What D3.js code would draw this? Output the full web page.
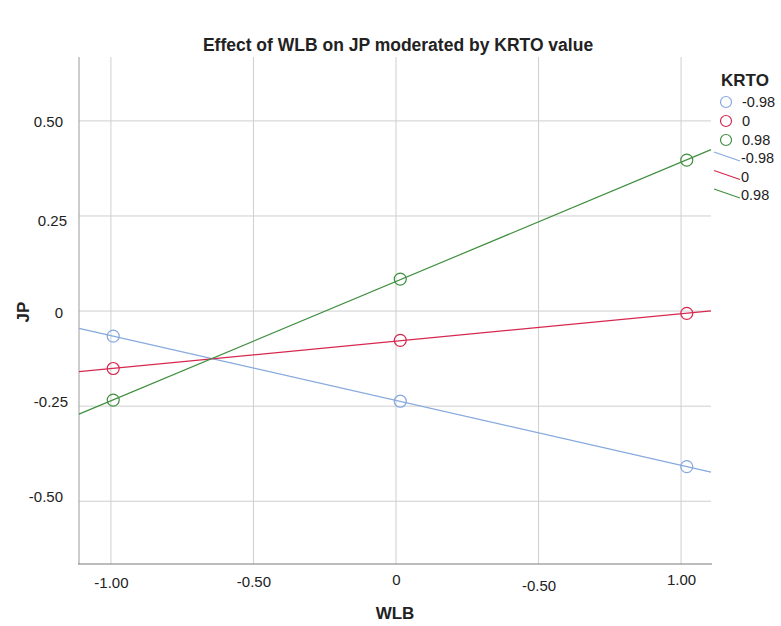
<!DOCTYPE html>
<html lang="en">
<head>
    <meta charset="UTF-8">
    <title>Effect of WLB on JP moderated by KRTO value</title>
    <style>
        body { margin: 0; background: #fff; }
        text { font-family: "Liberation Sans", Arial, sans-serif; fill: #222; }
    </style>
</head>
<script src="https://cdn.jsdelivr.net/npm/d3@7"></script>
<body>
</body>
<script>
    // data
    var wlbValues = [-0.992, 0.015, 1.02]
    var krtoLevels = ['-0.98', '0', '0.98']
    var jpLow = [-0.066, -0.237, -0.409]
    var jpMid = [-0.151, -0.077, -0.006]
    var jpHigh = [-0.234, 0.084, 0.397]
    var xTickValues = [-1, -0.5, 0, 0.5, 1]
    var xTickLabels = ['-1.00', '-0.50', '0', '-0.50', '1.00']
    var yTickValues = [-0.5, -0.25, 0, 0.25, 0.5]
    var yTickLabels = ['-0.50', '-0.25', '0', '0.25', '0.50']

    var colors = ['#86a9dd', '#d6284f', '#3f8f3f']
    var width = 781, height = 626
    var plot = {left: 79, right: 711, top: 57, bottom: 564}
    // small hand offsets seen on the labels in the original
    var xNudge = [0, -1, -3, 3, -3]
    var yNudgeY = [-5, -5, 1, 5, 1]
    var yNudgeX = [-2, 3, -2, 2, -2]

    var series = [jpLow, jpMid, jpHigh].map((vals, k) => ({
        name: krtoLevels[k],
        color: colors[k],
        points: vals.map((v, i) => ({x: wlbValues[i], y: v}))
    }))

    var svg = d3.select('body').append('svg')
        .attr('width', width)
        .attr('height', height)

    var x = d3.scaleLinear().domain([-1.112, 1.105]).range([plot.left, plot.right])
    var y = d3.scaleLinear().domain([-0.665, 0.668]).range([plot.bottom, plot.top])

    // grid
    svg.append('g')
        .selectAll('line')
        .data(xTickValues)
        .enter().append('line')
        .attr('x1', d => x(d)).attr('x2', d => x(d))
        .attr('y1', plot.top).attr('y2', plot.bottom)
        .attr('stroke', '#cfcfcf')
    svg.append('g')
        .selectAll('line')
        .data(yTickValues)
        .enter().append('line')
        .attr('x1', plot.left).attr('x2', plot.right)
        .attr('y1', d => y(d)).attr('y2', d => y(d))
        .attr('stroke', '#cfcfcf')

    // axes
    var xAxis = d3.axisBottom(x).tickValues(xTickValues).tickSize(0)
        .tickFormat((d, i) => xTickLabels[i])
    var gx = svg.append('g')
        .attr('transform', `translate(0, ${plot.bottom})`)
        .call(xAxis)
    gx.select('.domain').remove()
    gx.selectAll('text')
        .attr('font-size', 15)
        .attr('font-family', '"Liberation Sans", Arial, sans-serif')
        .attr('fill', '#222')
        .attr('y', (d, i) => 13 + xNudge[i])
        .attr('dy', '0.71em')

    var yAxis = d3.axisLeft(y).tickValues(yTickValues).tickSize(0)
        .tickFormat((d, i) => yTickLabels[i])
    var gy = svg.append('g')
        .attr('transform', `translate(${plot.left}, 0)`)
        .call(yAxis)
    gy.select('.domain').remove()
    gy.selectAll('text')
        .attr('font-size', 15)
        .attr('font-family', '"Liberation Sans", Arial, sans-serif')
        .attr('fill', '#222')
        .attr('x', (d, i) => -14 + yNudgeX[i])
        .attr('dy', (d, i) => (yNudgeY[i] + 5) + 'px')

    svg.append('line')
        .attr('x1', plot.left).attr('x2', plot.left)
        .attr('y1', plot.top).attr('y2', plot.bottom)
        .attr('stroke', '#9a9a9a')
    svg.append('line')
        .attr('x1', plot.left - 1).attr('x2', plot.right + 1)
        .attr('y1', plot.bottom).attr('y2', plot.bottom)
        .attr('stroke', '#7a7a7a')

    // fit lines across the whole x range
    function fit(points) {
        var mx = d3.mean(points, p => p.x), my = d3.mean(points, p => p.y)
        var sxy = d3.sum(points, p => (p.x - mx) * (p.y - my))
        var sxx = d3.sum(points, p => (p.x - mx) * (p.x - mx))
        var b = sxy / sxx
        return xv => my + b * (xv - mx)
    }
    var line = d3.line().x(d => x(d[0])).y(d => y(d[1]))
    series.forEach(s => {
        var f = fit(s.points)
        var dom = x.domain()
        svg.append('path')
            .attr('d', line([[dom[0], f(dom[0])], [dom[1], f(dom[1])]]))
            .attr('fill', 'none')
            .attr('stroke', s.color)
            .attr('stroke-width', 1.2)
    })
    series.forEach(s => {
        svg.append('g').selectAll('circle')
            .data(s.points)
            .enter().append('circle')
            .attr('cx', d => x(d.x))
            .attr('cy', d => y(d.y))
            .attr('r', 6)
            .attr('fill', 'none')
            .attr('stroke', s.color)
            .attr('stroke-width', 1.2)
    })

    // titles
    svg.append('text')
        .attr('x', 398).attr('y', 51)
        .attr('text-anchor', 'middle')
        .attr('font-size', 17.5).attr('font-weight', 'bold')
        .text('Effect of WLB on JP moderated by KRTO value')
    svg.append('text')
        .attr('x', 395).attr('y', 619)
        .attr('text-anchor', 'middle')
        .attr('font-size', 17).attr('font-weight', 'bold')
        .text('WLB')
    svg.append('text')
        .attr('transform', 'translate(29, 312) rotate(-90)')
        .attr('text-anchor', 'middle')
        .attr('font-size', 17).attr('font-weight', 'bold')
        .text('JP')

    // legend
    var lg = svg.append('g')
    lg.append('text')
        .attr('x', 721).attr('y', 86)
        .attr('font-size', 17).attr('font-weight', 'bold')
        .text('KRTO')
    series.forEach((s, k) => {
        var cy = 102 + k * 19
        lg.append('circle')
            .attr('cx', 726).attr('cy', cy).attr('r', 5.5)
            .attr('fill', 'none').attr('stroke', s.color).attr('stroke-width', 1.2)
        lg.append('text')
            .attr('x', 742).attr('y', cy + 5)
            .attr('font-size', 14.5)
            .text(s.name)
    })
    series.forEach((s, k) => {
        var cy = 158 + k * 18.5
        lg.append('line')
            .attr('x1', 714).attr('y1', cy - 6)
            .attr('x2', 740).attr('y2', cy + 3)
            .attr('stroke', s.color).attr('stroke-width', 1.2)
        lg.append('text')
            .attr('x', 741).attr('y', cy + 5)
            .attr('font-size', 14.5)
            .text(s.name)
    })
</script>
</html>
